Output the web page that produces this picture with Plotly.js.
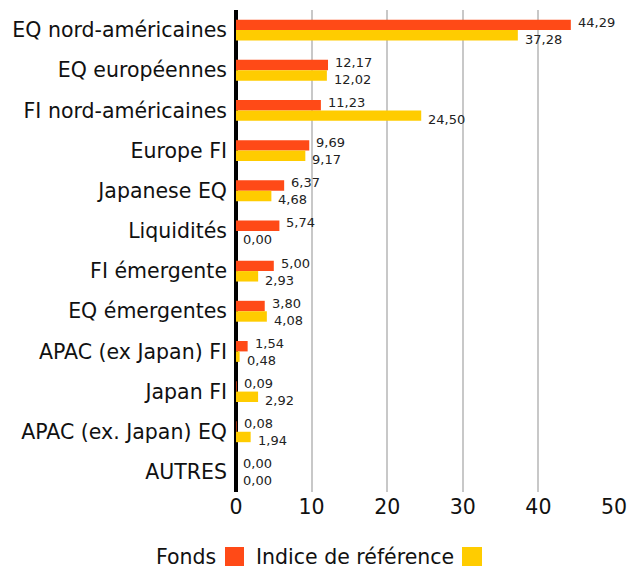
<!DOCTYPE html>
<html><head><meta charset="utf-8">
<script src="https://cdn.plot.ly/plotly-3.0.1.min.js"></script>
<style>html,body{margin:0;padding:0;background:#fff}#c{width:640px;height:574px}</style>
</head><body><div id="c"></div>
<script>
const categories = ["EQ nord-américaines","EQ européennes","FI nord-américaines","Europe FI","Japanese EQ","Liquidités","FI émergente","EQ émergentes","APAC (ex Japan) FI","Japan FI","APAC (ex. Japan) EQ","AUTRES"];
const fonds = [44.29,12.17,11.23,9.69,6.37,5.74,5.00,3.80,1.54,0.09,0.08,0.00];
const indice = [37.28,12.02,24.50,9.17,4.68,0.00,2.93,4.08,0.48,2.92,1.94,0.00];
const seriesNames = ["Fonds","Indice de référence"];
const colors = ["#FF4A17","#FFCC00"];
const FONT = "'DejaVu Sans', sans-serif";
const fmt = v => v.toFixed(2).replace('.', ',');

const traces = [fonds, indice].map((vals,i)=>({
  type:'bar', orientation:'h', y:categories, x:vals, name:seriesNames[i],
  marker:{color:colors[i]}, hoverinfo:'skip'
}));

const annotations = [];
[fonds, indice].forEach((vals,si)=>{
  vals.forEach((v,i)=>{
    annotations.push({x:v, y:categories[i], xref:'x', yref:'y', text:fmt(v), showarrow:false,
      xanchor:'left', yanchor:'middle', xshift:5, yshift: si===0 ? 8 : -9,
      font:{size:13, color:'#222', family:FONT}});
  });
});

const layout = {
  width:640, height:574, margin:{l:236, r:26, t:10, b:82},
  paper_bgcolor:'#fff', plot_bgcolor:'#fff', showlegend:false,
  barmode:'group', bargap:0.48, bargroupgap:0,
  font:{family:FONT, color:'#111'},
  xaxis:{range:[0,50], dtick:10, showgrid:true, gridcolor:'#c8c8c8', gridwidth:2,
    zeroline:true, zerolinecolor:'#000', zerolinewidth:4, showline:false,
    tickfont:{size:20.5, color:'#111', family:FONT}, ticks:'', fixedrange:true},
  yaxis:{autorange:'reversed', showgrid:false, zeroline:false, showline:false, ticks:'',
    tickfont:{size:20.5, color:'#111', family:FONT}, ticklabelstandoff:8},
  annotations:annotations,
  shapes:[]
};
function px2paperX(px){return (px-236)/378;}
function px2paperY(py){return (492-py)/482;}
layout.shapes.push({type:'rect', xref:'paper', yref:'paper', x0:px2paperX(225), x1:px2paperX(244), y0:px2paperY(566), y1:px2paperY(547), fillcolor:colors[0], line:{width:0}});
layout.shapes.push({type:'rect', xref:'paper', yref:'paper', x0:px2paperX(462), x1:px2paperX(482), y0:px2paperY(566), y1:px2paperY(547), fillcolor:colors[1], line:{width:0}});
annotations.push({xref:'paper', yref:'paper', x:px2paperX(218), y:px2paperY(557), xanchor:'right', yanchor:'middle', text:seriesNames[0], showarrow:false, font:{size:20.5, color:'#111', family:FONT}});
annotations.push({xref:'paper', yref:'paper', x:px2paperX(456), y:px2paperY(557), xanchor:'right', yanchor:'middle', text:seriesNames[1], showarrow:false, font:{size:20.5, color:'#111', family:FONT}});

Plotly.newPlot('c', traces, layout, {displayModeBar:false, staticPlot:true});
</script></body></html>
